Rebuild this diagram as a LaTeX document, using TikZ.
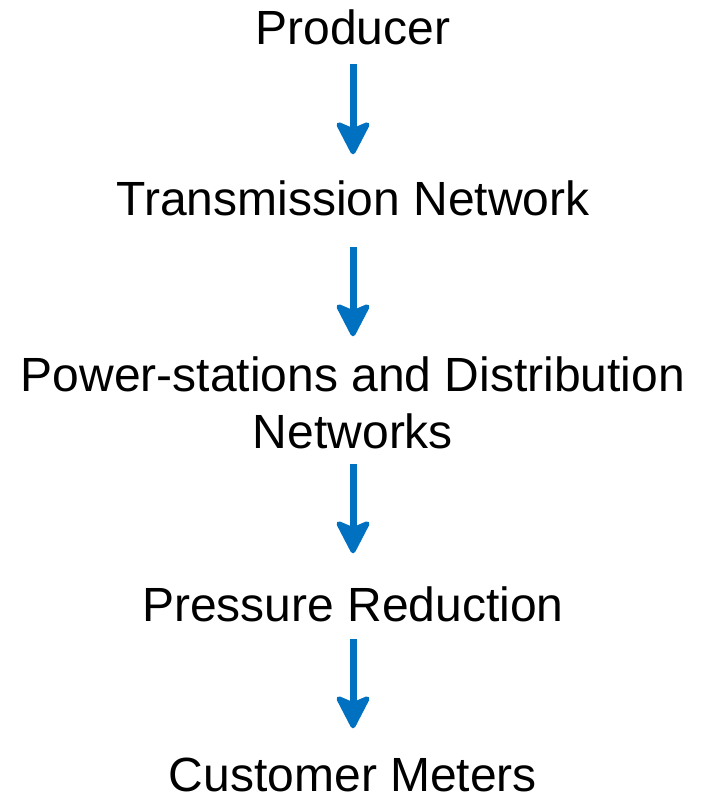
\documentclass[tikz,border=0pt]{standalone}
\usepackage{fontspec}
\setmainfont{Liberation Sans}
\definecolor{arrowblue}{HTML}{0070C0}
\begin{document}
\begin{tikzpicture}[x=1pt,y=-1pt,
  lbl/.style={inner sep=0pt, font=\fontsize{48}{57}\selectfont, text height=34pt, text depth=0pt, anchor=base, align=center},
  shaft/.style={draw=arrowblue, line width=7pt, shorten >=22pt},
  dhead/.pic={\filldraw[arrowblue, line width=5pt, line join=round] (0,-3) -- (-14,-30) -- (0,-24) -- (14,-30) -- cycle;}]
\useasboundingbox (0,0) rectangle (706,799);
\node[lbl] (prod) at (353,45) {Producer};
\node[lbl] (trans) at (353,216) {Transmission Network};
\node[lbl] (pow) at (353,448) {Power-stations and Distribution\\Networks};
\node[lbl] (press) at (353,621) {Pressure Reduction};
\node[lbl] (cust) at (353,791) {Customer Meters};
\coordinate (s1) at ([yshift=-19pt]prod.south);
\coordinate (t1) at ([yshift=27pt]trans.north);
\coordinate (s2) at ([yshift=-31pt]trans.south);
\coordinate (t2) at ([yshift=77pt]pow.north);
\coordinate (s3) at ([yshift=-16pt]pow.south);
\coordinate (t3) at ([yshift=33pt]press.north);
\coordinate (s4) at ([yshift=-18pt]press.south);
\coordinate (t4) at ([yshift=28pt]cust.north);
\path[shaft] (s1) -- (t1); \pic at (t1) {dhead};
\path[shaft] (s2) -- (t2); \pic at (t2) {dhead};
\path[shaft] (s3) -- (t3); \pic at (t3) {dhead};
\path[shaft] (s4) -- (t4); \pic at (t4) {dhead};
\end{tikzpicture}
\end{document}
